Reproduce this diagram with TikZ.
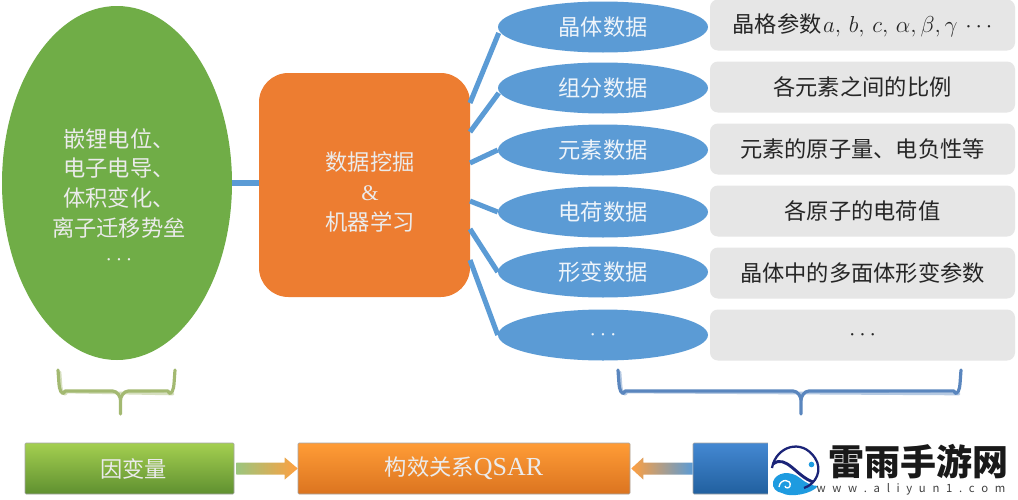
\documentclass[tikz,border=0pt]{standalone}
\usepackage{fontspec}
\setmainfont{Noto Sans CJK SC}
\newfontfamily\latinserif{Liberation Serif}
\usetikzlibrary{shapes.geometric,calc,arrows.meta}
\def\px{0.75pt}
\definecolor{ellblue}{HTML}{5B9BD5}
\definecolor{linkblue}{HTML}{5B9BD5}
\definecolor{leafgreen}{HTML}{70AD47}
\definecolor{orangemain}{HTML}{ED7D31}
\definecolor{greybox}{HTML}{E6E6E6}
\definecolor{bracegreen}{HTML}{A3B971}
\definecolor{braceblue}{HTML}{5A86BE}
\definecolor{softtext}{HTML}{EEF4FA}
\definecolor{navy}{HTML}{1B2478}
\definecolor{skyb}{HTML}{1E9BE0}
\definecolor{gtop}{HTML}{A4CF50}
\definecolor{gbot}{HTML}{5F9030}
\definecolor{otop}{HTML}{FF9C36}
\definecolor{obot}{HTML}{DB7420}
\definecolor{btop}{HTML}{4488D2}
\definecolor{bbot}{HTML}{21609F}
\tikzset{
  base/.style={font=\fontsize{16.7pt}{22pt}\selectfont, align=center, inner sep=0pt},
  dataell/.style={base, ellipse, fill=ellblue, text=softtext, minimum width=210*\px, minimum height=51*\px},
  infobox/.style={base, rectangle, rounded corners=6pt, fill=greybox, text=black!85, minimum width=305*\px, minimum height=51*\px},
  link/.style={draw=linkblue, line width=3.8pt},
  barbox/.style={base, rectangle, rounded corners=0.8pt, text=white!92!black, minimum height=51*\px, draw=black!35, line width=0.4pt},
  greenbar/.style={barbox, top color=gtop, bottom color=gbot, minimum width=209*\px},
  orangebar/.style={barbox, top color=otop, bottom color=obot, minimum width=332*\px},
  bluebar/.style={barbox, top color=btop, bottom color=bbot, minimum width=210*\px},
  bracecurve/.style={line width=2.4pt, line cap=round, line join=round},
}
\begin{document}
\begin{tikzpicture}[x=\px,y=-\px]
\useasboundingbox (0,0) rectangle (1018,500);
\fill[white] (0,0) rectangle (1018,500);

\node[base, ellipse, fill=leafgreen, minimum width=230*\px, minimum height=354*\px] (target) at (117,183) {};
\node[base, rectangle, rounded corners=22pt, fill=orangemain, minimum width=211*\px, minimum height=224*\px] (core) at (364.5,185) {};

\node[dataell] (e1) at (603,27)  {晶体数据};
\node[dataell] (e2) at (603,88)  {组分数据};
\node[dataell] (e3) at (603,150) {元素数据};
\node[dataell] (e4) at (603,212) {电荷数据};
\node[dataell] (e5) at (603,272) {形变数据};
\node[dataell] (e6) at (603,335) {$\cdots$};

\node[base, text=white!92!black, font=\fontsize{16.7pt}{22.2pt}\selectfont] (targettext) at (119,197) {嵌锂电位、\\电子电导、\\体积变化、\\离子迁移势垒\\$\cdots$};
\node[base, text=white!92!black, font=\fontsize{16.7pt}{22.5pt}\selectfont] (coretext) at (370,192) {数据挖掘\\{\latinserif\&}\\机器学习};

\coordinate (c1) at (470,103);
\coordinate (c2) at (470,132);
\coordinate (c3) at (470,163);
\coordinate (c4) at (470,201);
\coordinate (c5) at (470,229);
\coordinate (c6) at (470,260);
\draw[link] (target.east) -- (target.east -| core.west);
\draw[link] (c1) -- ($(e1.west)+(1,6)$);
\draw[link] (c2) -- ($(e2.west)+(1,5)$);
\draw[link] (c3) -- (e3.west);
\draw[link] (c4) -- (e4.west);
\draw[link] (c5) -- (e5.west);
\draw[link] (c6) -- (e6.west);

\node[infobox] (b1) at (862.5,25)  {晶格参数\hspace{1pt}$a,\,b,\,c,\,\alpha,\beta,\gamma\,\cdots$};
\node[infobox] (b2) at (862.5,87)  {各元素之间的比例};
\node[infobox] (b3) at (862.5,149) {元素的原子量、电负性等};
\node[infobox] (b4) at (862.5,211) {各原子的电荷值};
\node[infobox] (b5) at (862.5,273) {晶体中的多面体形变参数};
\node[infobox] (b6) at (862.5,335) {$\cdots$};

% braces
\coordinate (gl) at (58,370);
\coordinate (gr) at (175,370);
\coordinate (gt) at (120.5,414);
\coordinate (bl) at (618,370);
\coordinate (br) at (961,370);
\coordinate (bt) at (801,414);
\foreach \ca/\cb/\cc/\col in {gl/gr/gt/bracegreen, bl/br/bt/braceblue}{
  \draw[bracecurve, draw=\col!45!white, line width=2pt]
    ($(\ca)+(2,2)$) -- ++(1,14) .. controls +(0,4) and +(-3,6) .. ++(6,6)
    -- ($(\cb)+(-2,24)$);
  \draw[bracecurve, draw=\col]
    (\ca) -- ++(1,14) .. controls +(0,4) and +(-3,7) .. ++(6,7)
    -- ($(\cc|-\ca)+(-8,21)$) .. controls +(5,0) and +(0,-3) .. ($(\cc)+(0,-14)$) -- (\cc);
  \draw[bracecurve, draw=\col]
    (\cb) -- ++(-1,14) .. controls +(0,4) and +(3,7) .. ++(-6,7)
    -- ($(\cc|-\cb)+(8,21)$) .. controls +(-5,0) and +(0,-3) .. ($(\cc)+(0,-14)$);
}

% bottom bars
\node[greenbar] (dep) at (129.5,468.5) {\hspace{6pt}因变量};
\node[orangebar] (qsar) at (464,468.5) {构效关系{\latinserif\fontsize{19.5pt}{22pt}\selectfont QSAR}};
\node[bluebar] (ind) at (798,468.5) {};
\shade[left color=leafgreen!70!white, right color=orange!75!white]
  ($(dep.east)+(2,-6)$) -- ($(qsar.west)+(-13,-6)$) -- ($(qsar.west)+(-13,-11)$) -- (qsar.west)
  -- ($(qsar.west)+(-13,11)$) -- ($(qsar.west)+(-13,6)$) -- ($(dep.east)+(2,6)$) -- cycle;
\shade[left color=orange!75!white, right color=ellblue]
  ($(ind.west)+(0,-6)$) -- ($(qsar.east)+(13,-6)$) -- ($(qsar.east)+(13,-11)$) -- ($(qsar.east)+(1,0)$)
  -- ($(qsar.east)+(13,11)$) -- ($(qsar.east)+(13,6)$) -- ($(ind.west)+(0,6)$) -- cycle;

% watermark panel
\fill[white] (768,441) rectangle (1018,500);
\fill[skyb] (773,482) .. controls (776,472) and (790,470) .. (800,478) .. controls (806,483) and (812,486) .. (818,486) .. controls (812,494) and (790,498) .. (782,493) .. controls (776,492) and (772,488) .. (773,482) -- cycle;
\draw[white, line width=1pt] (779,487) .. controls (780,478) and (792,479) .. (790,486) .. controls (789,489) and (785,488) .. (785,486);
\draw[navy, line width=1.7pt] (772,468) .. controls (776,446) and (802,438) .. (815,458) .. controls (823,470) and (816,484) .. (804,488);
\draw[navy, line width=2.2pt] (773,464) .. controls (786,454) and (796,476) .. (813,482);
\fill[skyb] (811.5,464.5) circle (2.8);
\node[base, font=\fontsize{27pt}{28pt}\selectfont\bfseries, text=black!90] (wmname) at (918,462) {雷雨手游网};
\node[base, font=\fontsize{8.5pt}{10pt}\selectfont, text=black!75] (wmurl) at (911,489) {w\hspace{5pt}w\hspace{5pt}w\hspace{5pt}.\hspace{5pt}a\hspace{5pt}l\hspace{5pt}i\hspace{5pt}y\hspace{5pt}u\hspace{5pt}n\hspace{5pt}1\hspace{5pt}.\hspace{5pt}c\hspace{5pt}o\hspace{5pt}m};
\end{tikzpicture}
\end{document}
